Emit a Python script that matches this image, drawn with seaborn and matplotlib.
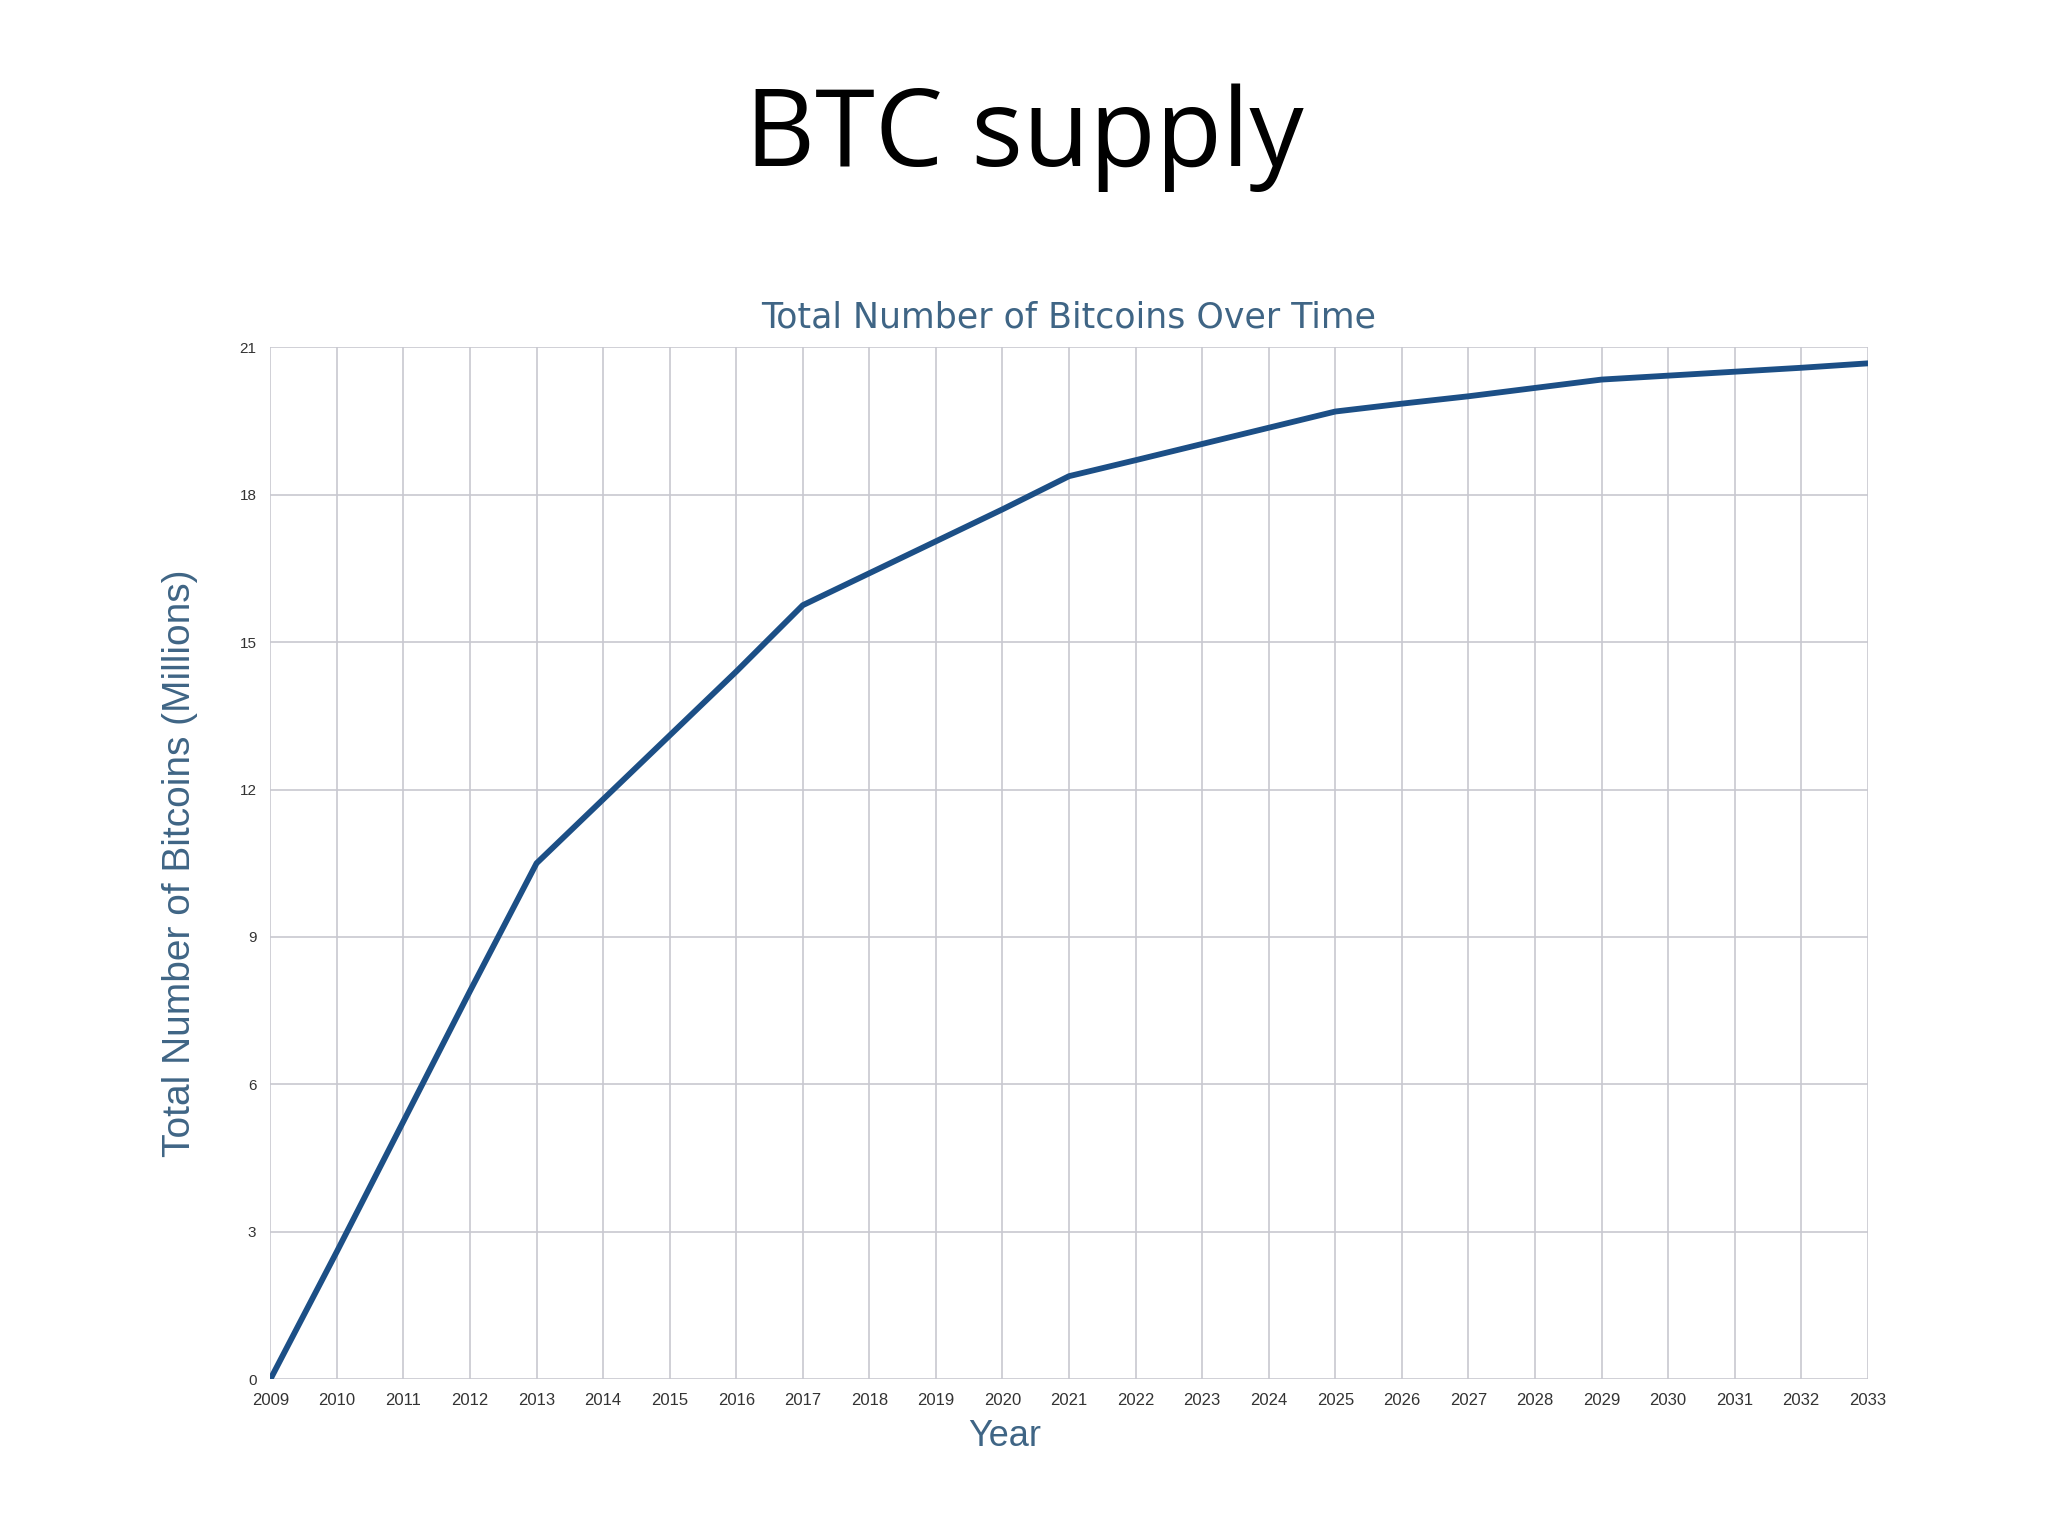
import matplotlib
matplotlib.use("Agg")
import matplotlib.pyplot as plt
import seaborn as sns
import pandas as pd

years = list(range(2009, 2034))
supply = [0, 2.6, 5.25, 7.9, 10.5, 11.8, 13.1, 14.4, 15.75, 16.4, 17.05, 17.7, 18.375,
          18.7, 19.03, 19.36, 19.69, 19.85, 20.0, 20.17, 20.34, 20.42, 20.5, 20.58, 20.67]
y_ticks = [0, 3, 6, 9, 12, 15, 18, 21]

sns.set_theme(style="whitegrid")
plt.rcParams['font.family'] = ['Liberation Sans', 'DejaVu Sans']

df = pd.DataFrame({"Year": years, "Supply": supply})
fig = plt.figure(figsize=(20.48, 15.36), dpi=100)
ax = fig.add_axes([0.132, 0.102, 0.780, 0.672])
sns.lineplot(data=df, x="Year", y="Supply", ax=ax, color="#1c4f86", linewidth=4.2)
ax.set_xlim(2009, 2033)
ax.set_ylim(0, 21)
ax.set_xticks(years)
ax.set_xticklabels([str(y) for y in years], fontsize=12, color="#333333")
ax.set_yticks(y_ticks)
ax.set_yticklabels([str(t) for t in y_ticks], fontsize=11, color="#333333")
ax.grid(True, color="#c8c8d0", linewidth=1.2)
for s in ax.spines.values():
    s.set_visible(False)
ax.tick_params(axis='both', length=0, pad=10)
ax.set_xlabel("Year", fontsize=26, color="#3f6585", labelpad=8, x=0.46)
ax.set_ylabel("Total Number of Bitcoins (Millions)", fontsize=28, color="#3f6585", labelpad=30)
ax.set_title("Total Number of Bitcoins Over Time", fontsize=25, color="#3f6585", pad=14,
             family=['DejaVu Sans'])
fig.text(0.5, 0.91, "BTC supply", ha="center", va="center", fontsize=78,
         family=['Open Sans', 'DejaVu Sans'], color="black")
fig.savefig("out.png", dpi=100, facecolor="white")
